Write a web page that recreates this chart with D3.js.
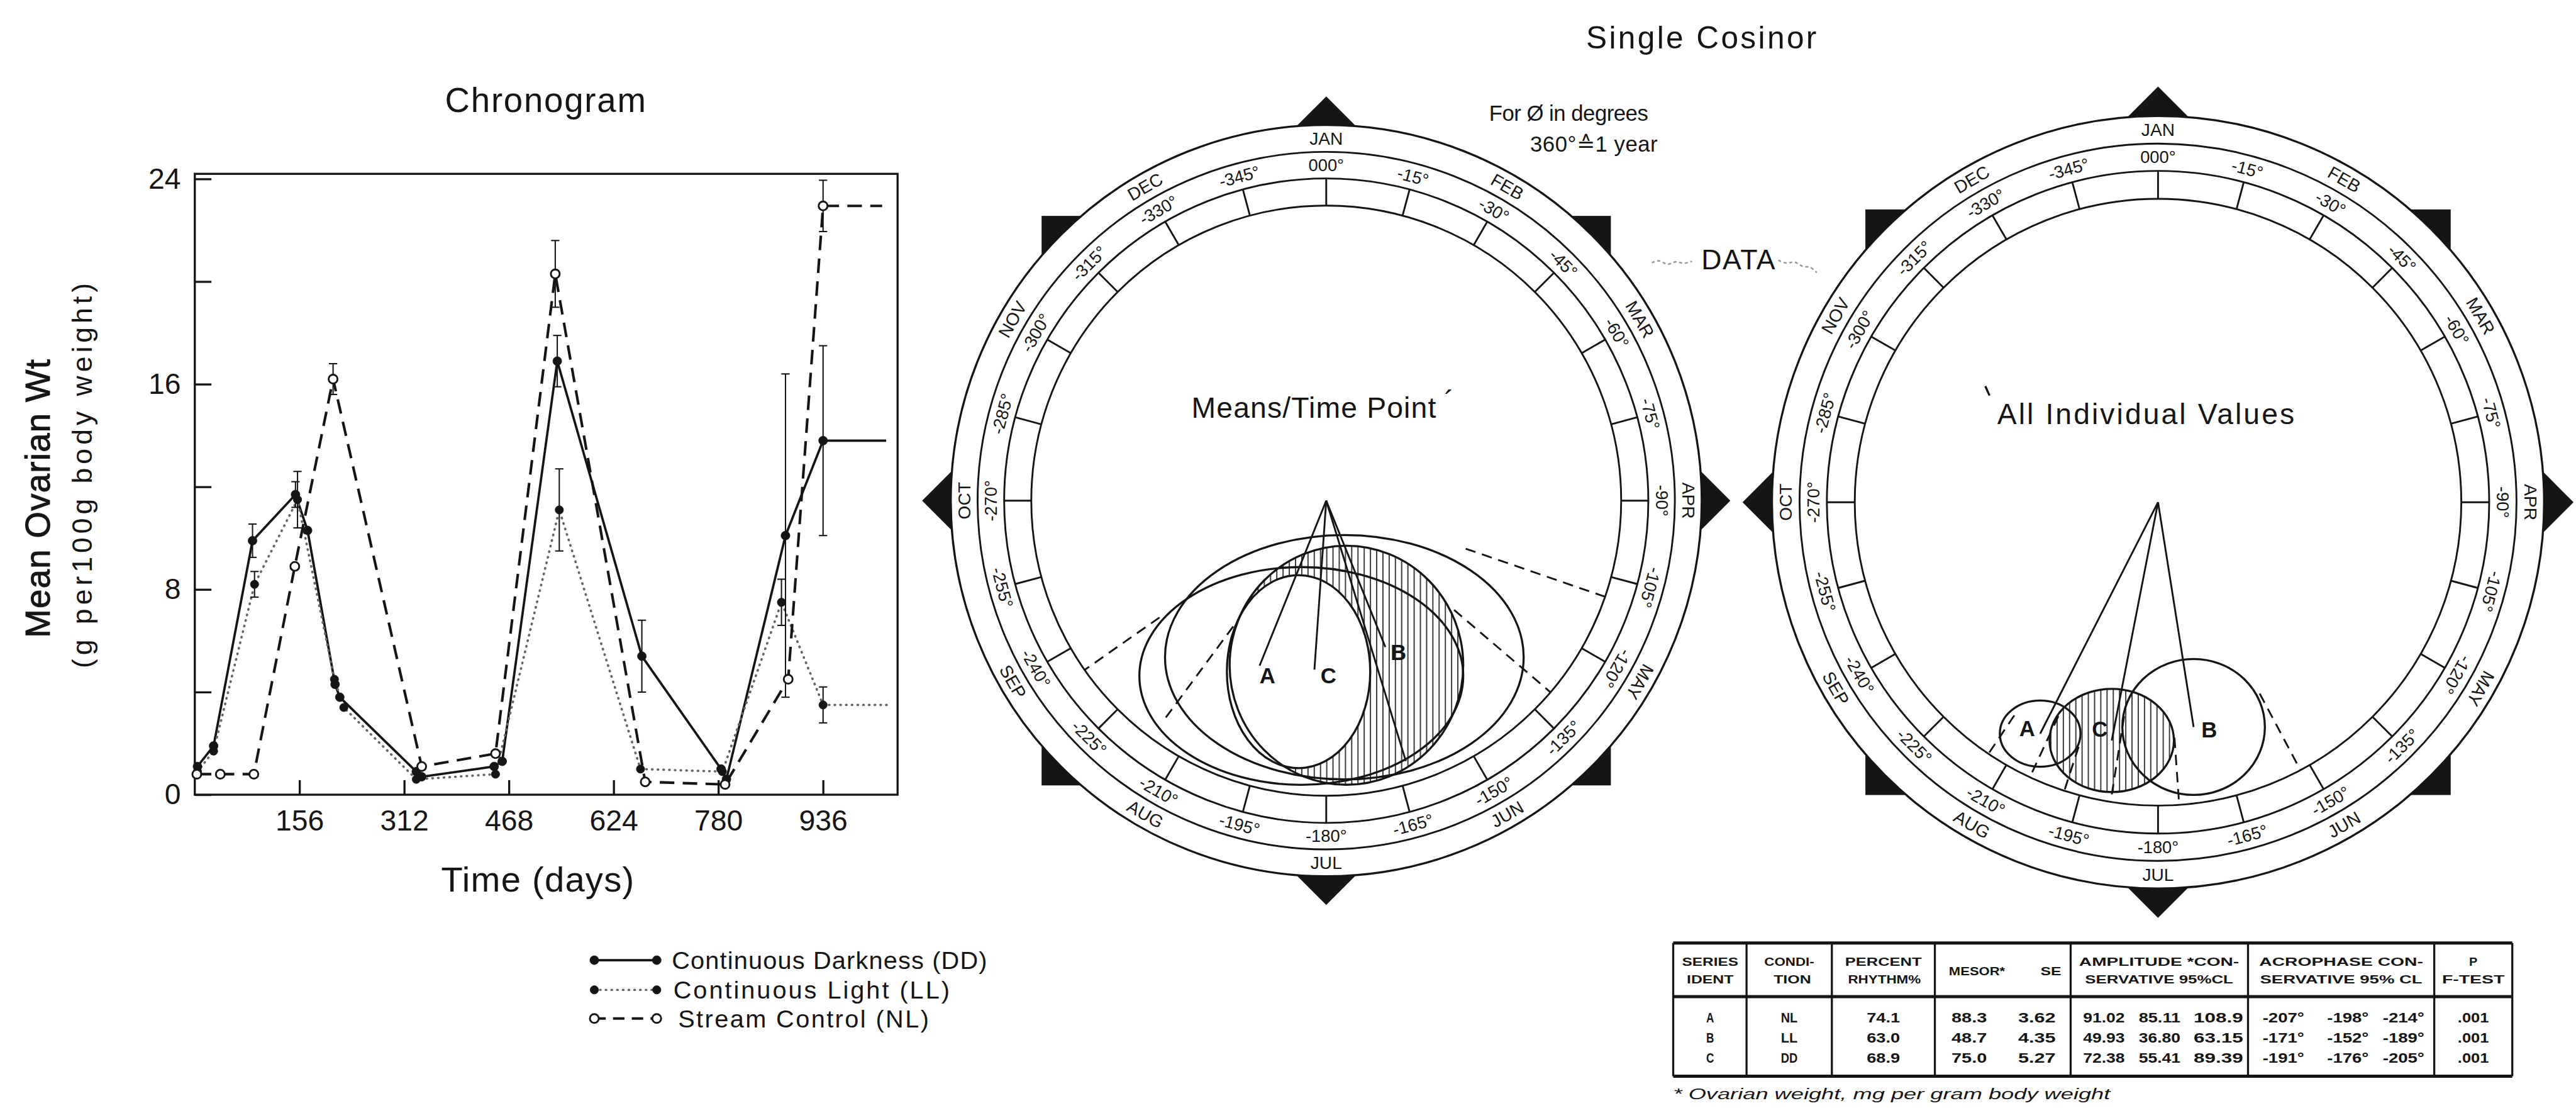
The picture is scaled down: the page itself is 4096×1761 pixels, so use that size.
<!DOCTYPE html>
<html>
<head>
<meta charset="utf-8">
<title>Chronogram and Single Cosinor</title>
<script src="https://cdn.jsdelivr.net/npm/d3@7"></script>
<style>
  html, body { margin: 0; padding: 0; background: #ffffff; }
  svg { display: block; }
</style>
</head>
<body>
<svg id="fig" width="4096" height="1761" viewBox="0 0 4951 2129"></svg>
<script>
// ---------- Chronogram: mean ovarian weight by day ----------
const xTickDays = [156, 312, 468, 624, 780, 936];
const yTickValues = [0, 4, 8, 12, 16, 20, 24];
const yTickLabels = ["0", "", "8", "", "16", "", "24"];

const ddDays  = [4, 28, 86, 150, 168, 209, 216, 330, 338, 446, 458, 540, 666, 784, 792, 880, 936];
const ddMeans = [1.1, 1.9, 9.9, 11.7, 10.3, 4.3, 3.8, 0.9, 0.7, 1.1, 1.3, 16.9, 5.4, 1.0, 0.6, 10.1, 13.8];
const ddSE    = [0, 0, 0.65, 0.5, 0, 0, 0, 0, 0, 0, 0, 1.0, 1.4, 0, 0, 6.3, 3.7];

const llDays  = [4, 28, 89, 153, 208, 222, 330, 448, 543, 664, 786, 874, 936];
const llMeans = [0.9, 1.7, 8.2, 11.5, 4.5, 3.4, 0.6, 0.8, 11.1, 1.0, 0.9, 7.5, 3.5];
const llSE    = [0, 0, 0.5, 1.1, 0, 0, 0, 0, 1.6, 0, 0, 0.9, 0.7];

const nlDays  = [3, 38, 88, 149, 206, 338, 448, 537, 671, 790, 884, 936];
const nlMeans = [0.8, 0.8, 0.8, 8.9, 16.2, 1.1, 1.6, 20.3, 0.5, 0.4, 4.5, 22.95];
const nlSE    = [0, 0, 0, 0, 0.6, 0, 0, 1.3, 0, 0, 0, 1.0];

// last mean carried on to the end of the record
const ddCarryTo = 1030, llCarryTo = 1035, nlCarryTo = 1024;

const legendNames = ["Continuous Darkness (DD)", "Continuous Light (LL)", "Stream Control (NL)"];

// ---------- Cosinor scales ----------
const monthNames = ["JAN", "FEB", "MAR", "APR", "MAY", "JUN", "JUL", "AUG", "SEP", "OCT", "NOV", "DEC"];
const degreeLabels = ["000°", "-15°", "-30°", "-45°", "-60°", "-75°", "-90°", "-105°", "-120°", "-135°",
  "-150°", "-165°", "-180°", "-195°", "-210°", "-225°", "-240°", "-255°", "-270°", "-285°",
  "-300°", "-315°", "-330°", "-345°"];

// ---------- Summary table ----------
const seriesIds     = ["A", "B", "C"];
const conditions    = ["NL", "LL", "DD"];
const percentRhythm = ["74.1", "63.0", "68.9"];
const mesor         = ["88.3", "48.7", "75.0"];
const mesorSE       = ["3.62", "4.35", "5.27"];
const amplitude     = ["91.02", "49.93", "72.38"];
const ampLower      = ["85.11", "36.80", "55.41"];
const ampUpper      = ["108.9", "63.15", "89.39"];
const acrophaseDeg  = [-207, -171, -191];
const acroLowerDeg  = [-198, -152, -176];
const acroUpperDeg  = [-214, -189, -205];
const pValues       = [".001", ".001", ".001"];

// Means / time point cosinor (amplitudes relative to the inner ring)
const meansIds   = ["A", "C", "B"];
const meansPhase = [202, 184, 158];
const meansAmp   = [0.603, 0.574, 0.535];
const meansLabelDx = [15, 27, 25], meansLabelDy = [20, 12, 10];
const meansEdgePhase = [163], meansEdgeAmp = [0.923];
const meansLimitPhase = [235, 216.5, 109, 130.5];
const meansLimitFrom  = [0.69, 0.53, 0.50, 0.57];
const meansLimitTo    = [1.0, 0.92, 1.0, 1.0];
const meansEllPhase = [188.1, 173.4, 173.0, 189.2];
const meansEllAmp   = [0.600, 0.534, 0.562, 0.587];
const meansEllRx    = [0.549, 0.608, 0.396, 0.243];
const meansEllRy    = [0.369, 0.414, 0.405, 0.327];
const meansEllFill  = ["none", "none", "hatch", "white"];

// All individual values cosinor: vectors follow the table acrophases
const indivAmp   = [0.856, 0.750, 0.800];
const indivEllRx = [0.133, 0.235, 0.205];
const indivEllRy = [0.109, 0.224, 0.170];
const indivEllFill = ["none", "none", "hatch"];
const indivLabelDx = [-25, 30, -23], indivLabelDy = [-10, 5, -22];

// ============================================================
const FONT = "'Liberation Sans', Arial, 'DejaVu Sans', sans-serif";
const NARROW = "'Liberation Sans Narrow', 'Liberation Sans', Arial, sans-serif";
const ink = "#151515";
const svg = d3.select("#fig");

const defs = svg.append("defs");
defs.append("pattern").attr("id", "hatch").attr("patternUnits", "userSpaceOnUse")
  .attr("width", 12).attr("height", 40)
  .append("line").attr("x1", 6).attr("x2", 6).attr("y1", 0).attr("y2", 40)
  .attr("stroke", ink).attr("stroke-width", 2);

function txt(g, s, x0, y0, size, opts = {}) {
  const t = g.append("text").attr("x", x0).attr("y", y0).text(s)
    .attr("font-family", opts.family || FONT).attr("font-size", size).attr("fill", ink)
    .attr("text-anchor", opts.anchor || "start");
  if (opts.len) t.attr("textLength", opts.len).attr("lengthAdjust", opts.adjust || "spacing");
  if (opts.weight) t.attr("font-weight", opts.weight);
  if (opts.style) t.attr("font-style", opts.style);
  if (opts.transform) t.attr("transform", opts.transform);
  if (opts.baseline) t.attr("dominant-baseline", opts.baseline);
  return t;
}

// ================= Chronogram =================
const x = d3.scaleLinear().domain([0, 1047]).range([374, 1725]);
const y = d3.scaleLinear().domain([0, 24.2]).range([1527, 334]);
const chrono = svg.append("g");

txt(chrono, "Chronogram", 1048, 215, 66, { anchor: "middle", len: 386 });

chrono.append("rect")
  .attr("x", x.range()[0]).attr("y", y.range()[1])
  .attr("width", x.range()[1] - x.range()[0]).attr("height", y.range()[0] - y.range()[1])
  .attr("fill", "none").attr("stroke", ink).attr("stroke-width", 4);

const yAxis = d3.axisLeft(y).tickValues(yTickValues).tickSize(-32).tickPadding(27)
  .tickFormat((d, i) => yTickLabels[i]);
const yg = chrono.append("g").attr("transform", `translate(${x.range()[0]},0)`).call(yAxis);
yg.select(".domain").remove();
yg.selectAll("line").attr("stroke", ink).attr("stroke-width", 4);
yg.selectAll("text").attr("font-size", 56).attr("font-family", FONT).attr("fill", ink);

const xAxis = d3.axisBottom(x).tickValues(xTickDays).tickSize(-28).tickPadding(29);
const xg = chrono.append("g").attr("transform", `translate(0,${y(0)})`).call(xAxis);
xg.select(".domain").remove();
xg.selectAll("line").attr("stroke", ink).attr("stroke-width", 4);
xg.selectAll("text").attr("font-size", 56).attr("font-family", FONT).attr("fill", ink);

txt(chrono, "Time (days)", 1033, 1713, 68, { anchor: "middle", len: 371 });
txt(chrono, "Mean Ovarian Wt", 0, 0, 66, { anchor: "middle", len: 535, transform: "translate(95,958) rotate(-90)" })
  .attr("stroke", ink).attr("stroke-width", 1.2);
txt(chrono, "(g per100g body weight)", 0, 0, 54, { anchor: "middle", len: 740, transform: "translate(176,914) rotate(-90)" });

const series = [
  { days: ddDays, means: ddMeans, se: ddSE, carry: ddCarryTo, dash: null, width: 4.5, stroke: ink, open: false, r: 8.5 },
  { days: llDays, means: llMeans, se: llSE, carry: llCarryTo, dash: "1 10", width: 4.5, stroke: "#666", open: false, r: 8 },
  { days: nlDays, means: nlMeans, se: nlSE, carry: nlCarryTo, dash: "28 16", width: 5, stroke: ink, open: true, r: 8.5 }
];
const lineGen = d3.line().x(d => x(d[0])).y(d => y(d[1]));

series.forEach(s => {
  const pts = s.days.map((d, i) => [d, s.means[i]]);
  const full = pts.concat([[s.carry, s.means[s.means.length - 1]]]);
  chrono.append("path").attr("d", lineGen(full)).attr("fill", "none")
    .attr("stroke", s.stroke).attr("stroke-width", s.width)
    .attr("stroke-dasharray", s.dash).attr("stroke-linecap", s.dash === "1 10" ? "round" : "butt");
});
series.forEach(s => {
  s.days.forEach((d, i) => {
    const e = s.se[i];
    if (!e) return;
    const cx = x(d);
    chrono.append("line").attr("x1", cx).attr("x2", cx)
      .attr("y1", y(s.means[i] - e)).attr("y2", y(s.means[i] + e))
      .attr("stroke", ink).attr("stroke-width", 2.5);
    [s.means[i] - e, s.means[i] + e].forEach(v => {
      chrono.append("line").attr("x1", cx - 8).attr("x2", cx + 8).attr("y1", y(v)).attr("y2", y(v))
        .attr("stroke", ink).attr("stroke-width", 2.5);
    });
  });
});
series.forEach(s => {
  chrono.selectAll(null).data(s.days.map((d, i) => [d, s.means[i]])).join("circle")
    .attr("cx", d => x(d[0])).attr("cy", d => y(d[1])).attr("r", s.r)
    .attr("fill", s.open ? "#fff" : ink).attr("stroke", ink).attr("stroke-width", s.open ? 3.5 : 1);
});

// legend
const legend = svg.append("g");
const legendY = [1845, 1902, 1957];
const legendTextX = [1291, 1294, 1303];
series.forEach((s, i) => {
  const ly = legendY[i];
  legend.append("line").attr("x1", 1142).attr("x2", 1262).attr("y1", ly).attr("y2", ly)
    .attr("stroke", s.stroke).attr("stroke-width", s.width)
    .attr("stroke-dasharray", s.dash === "28 16" ? "22 14" : s.dash)
    .attr("stroke-linecap", s.dash === "1 10" ? "round" : "butt");
  [1142, 1262].forEach(lx => legend.append("circle").attr("cx", lx).attr("cy", ly).attr("r", s.r)
    .attr("fill", s.open ? "#fff" : ink).attr("stroke", ink).attr("stroke-width", s.open ? 3.5 : 1));
  const lens = [606, 531, 482];
  txt(legend, legendNames[i], legendTextX[i], ly + 17, 48, { len: lens[i] });
});

// ================= Single cosinor =================
txt(svg, "Single Cosinor", 3270, 93, 60, { anchor: "middle", len: 443 });
txt(svg, "For Ø in degrees", 2862, 232, 42, { len: 306 });
txt(svg, "360°≙1 year", 2941, 291, 42, { len: 245 });

function flipRot(a) { return (a >= 135 && a <= 255) ? a - 180 : a; }

function drawCosinor(cx, cy, R4, o) {
  const g = svg.append("g");
  const r = d3.scaleLinear().domain([0, 1]).range([0, R4]);
  const ang = d3.scaleLinear().domain([0, 360]).range([0, 2 * Math.PI]);
  const at = (a, rr) => [cx + rr * Math.sin(ang(a)), cy - rr * Math.cos(ang(a))];
  const R3 = R4 * 1.092, R2 = R4 * 1.182, R1 = R4 * 1.273;
  const dia = R4 * 1.37, sq = R4 * 0.965;

  g.append("path").attr("d", d3.line()([[cx, cy - dia], [cx + dia, cy], [cx, cy + dia], [cx - dia, cy]]) + "Z")
    .attr("fill", ink);
  g.append("rect").attr("x", cx - sq).attr("y", cy - sq).attr("width", 2 * sq).attr("height", 2 * sq)
    .attr("fill", ink);
  g.append("circle").attr("cx", cx).attr("cy", cy).attr("r", R1)
    .attr("fill", "#fff").attr("stroke", ink).attr("stroke-width", 4);
  g.selectAll(null).data([R2, R3, R4]).join("circle")
    .attr("cx", cx).attr("cy", cy).attr("r", d => d)
    .attr("fill", "none").attr("stroke", ink).attr("stroke-width", 3.5);

  degreeLabels.forEach((lab, i) => {
    const a = i * 15;
    const p1 = at(a, R4), p2 = at(a, R3);
    g.append("line").attr("x1", p1[0]).attr("y1", p1[1]).attr("x2", p2[0]).attr("y2", p2[1])
      .attr("stroke", ink).attr("stroke-width", 3.5);
    const p = at(a, (R2 + R3) / 2);
    txt(g, lab, p[0], p[1], 33, { anchor: "middle", baseline: "central",
      transform: `rotate(${flipRot(a)},${p[0]},${p[1]})` });
  });
  monthNames.forEach((m, i) => {
    const a = i * 30;
    const p = at(a, (R1 + R2) / 2);
    txt(g, m, p[0], p[1], 34, { anchor: "middle", baseline: "central",
      transform: `rotate(${flipRot(a)},${p[0]},${p[1]})` });
  });

  const ells = o.ellPhase.map((ph, i) => {
    const c = at(ph, r(o.ellAmp[i]));
    return { cx: c[0], cy: c[1], rx: r(o.ellRx[i]), ry: r(o.ellRy[i]), fill: o.ellFill[i] };
  });
  const ellipse = (sel) => sel.attr("cx", d => d.cx).attr("cy", d => d.cy).attr("rx", d => d.rx).attr("ry", d => d.ry);
  g.selectAll(null).data(ells.filter(e => e.fill === "hatch")).join("ellipse").call(ellipse).attr("fill", "url(#hatch)");
  g.selectAll(null).data(ells.filter(e => e.fill === "white")).join("ellipse").call(ellipse).attr("fill", "#fff");
  g.selectAll(null).data(ells).join("ellipse").call(ellipse)
    .attr("fill", "none").attr("stroke", ink).attr("stroke-width", 4);

  o.limitPhase.forEach((ph, i) => {
    const p1 = at(ph, r(o.limitFrom[i])), p2 = at(ph, r(o.limitTo[i]));
    g.append("line").attr("x1", p1[0]).attr("y1", p1[1]).attr("x2", p2[0]).attr("y2", p2[1])
      .attr("stroke", ink).attr("stroke-width", 3.5).attr("stroke-dasharray", "20 13");
  });
  (o.edgePhase || []).forEach((ph, i) => {
    const p = at(ph, r(o.edgeAmp[i]));
    g.append("line").attr("x1", cx).attr("y1", cy).attr("x2", p[0]).attr("y2", p[1])
      .attr("stroke", ink).attr("stroke-width", 3.5);
  });
  o.phase.forEach((ph, i) => {
    const p = at(ph, r(o.amp[i]));
    g.append("line").attr("x1", cx).attr("y1", cy).attr("x2", p[0]).attr("y2", p[1])
      .attr("stroke", ink).attr("stroke-width", 3.5);
    txt(g, o.ids[i], p[0] + o.labelDx[i], p[1] + o.labelDy[i], 42,
      { anchor: "middle", baseline: "central", weight: "bold" });
  });
  return { g, at };
}

// left: means per time point
const left = drawCosinor(2549, 962, 567, {
  ids: meansIds, phase: meansPhase, amp: meansAmp, labelDx: meansLabelDx, labelDy: meansLabelDy,
  edgePhase: meansEdgePhase, edgeAmp: meansEdgeAmp,
  limitPhase: meansLimitPhase, limitFrom: meansLimitFrom, limitTo: meansLimitTo,
  ellPhase: meansEllPhase, ellAmp: meansEllAmp, ellRx: meansEllRx, ellRy: meansEllRy, ellFill: meansEllFill
});
txt(left.g, "Means/Time Point", 2290, 803, 56, { len: 470 });
txt(left.g, "´", 2776, 790, 56);

// right: all individual values, drawn from the table acrophases
const indivPhase = acrophaseDeg.map(d => -d);
const indivRho = indivEllRx.map((rx, i) => (rx + indivEllRy[i]) / 2);
const limPhase = [], limFrom = [], limTo = [];
acroLowerDeg.forEach((lo, i) => {
  const start = Math.sqrt(indivAmp[i] * indivAmp[i] - indivRho[i] * indivRho[i]);
  [-lo, -acroUpperDeg[i]].forEach(ph => { limPhase.push(ph); limFrom.push(start); limTo.push(1.0); });
});
const right = drawCosinor(4148, 965, 583, {
  ids: seriesIds, phase: indivPhase, amp: indivAmp, labelDx: indivLabelDx, labelDy: indivLabelDy,
  limitPhase: limPhase, limitFrom: limFrom, limitTo: limTo,
  ellPhase: indivPhase, ellAmp: indivAmp, ellRx: indivEllRx, ellRy: indivEllRy, ellFill: indivEllFill
});
txt(right.g, "All Individual Values", 3839, 815, 56, { len: 571 });
right.g.append("line").attr("x1", 3816).attr("y1", 742).attr("x2", 3824).attr("y2", 760)
  .attr("stroke", ink).attr("stroke-width", 4);

// DATA pointer between the two dials
txt(svg, "DATA", 3270, 517, 54, { len: 142 });
const squiggle = d3.line().curve(d3.curveBasis);
svg.append("path").attr("d", squiggle([[3175, 505], [3190, 498], [3205, 512], [3220, 500], [3235, 508], [3252, 502]]))
  .attr("fill", "none").attr("stroke", "#999").attr("stroke-width", 3).attr("stroke-dasharray", "6 5");
svg.append("path").attr("d", squiggle([[3418, 500], [3435, 508], [3450, 500], [3465, 515], [3478, 510], [3492, 524]]))
  .attr("fill", "none").attr("stroke", "#999").attr("stroke-width", 3).attr("stroke-dasharray", "6 5");

// ================= Table =================
const tbl = svg.append("g");
const colEdges = [3216, 3357, 3521, 3719, 3980, 4321, 4679, 4829];
const tTop = 1812, tHead = 1915, tBottom = 2068;
[tTop, tHead, tBottom].forEach(yy => tbl.append("line")
  .attr("x1", colEdges[0]).attr("x2", colEdges[colEdges.length - 1]).attr("y1", yy).attr("y2", yy)
  .attr("stroke", ink).attr("stroke-width", 6));
colEdges.forEach(xx => tbl.append("line").attr("x1", xx).attr("x2", xx).attr("y1", tTop).attr("y2", tBottom)
  .attr("stroke", ink).attr("stroke-width", 4));

const cell = (s, cx, cy, size, perChar) => txt(tbl, s, cx, cy, size, {
  anchor: "middle", baseline: "central", family: NARROW, weight: "bold",
  len: s.length * perChar, adjust: "spacingAndGlyphs" });

const h1 = 1848, h2 = 1882, hm = 1866;
cell("SERIES", 3287, h1, 23, 18); cell("IDENT", 3287, h2, 23, 18);
cell("CONDI-", 3439, h1, 23, 16); cell("TION", 3445, h2, 23, 18);
cell("PERCENT", 3620, h1, 23, 21); cell("RHYTHM%", 3622, h2, 23, 20);
cell("MESOR*", 3800, hm, 23, 18); cell("SE", 3942, hm, 23, 20);
cell("AMPLITUDE *CON-", 4150, h1, 23, 20.5); cell("SERVATIVE 95%CL", 4150, h2, 23, 19);
cell("ACROPHASE CON-", 4500, h1, 23, 22.5); cell("SERVATIVE 95% CL", 4500, h2, 23, 19.5);
cell("P", 4754, h1, 23, 16); cell("F-TEST", 4754, h2, 23, 20);

const rowY = [1955, 1994, 2033];
const fmtDeg = d => `${d}°`;
seriesIds.forEach((id, i) => {
  const ry = rowY[i];
  cell(id, 3287, ry, 27, 15);
  cell(conditions[i], 3439, ry, 27, 16);
  cell(percentRhythm[i], 3620, ry, 27, 16);
  cell(mesor[i], 3785, ry, 27, 17);
  cell(mesorSE[i], 3915, ry, 27, 18);
  cell(amplitude[i], 4044, ry, 27, 16);
  cell(ampLower[i], 4151, ry, 27, 16);
  cell(ampUpper[i], 4264, ry, 27, 19);
  cell(fmtDeg(acrophaseDeg[i]), 4389, ry, 27, 16);
  cell(fmtDeg(acroLowerDeg[i]), 4513, ry, 27, 16);
  cell(fmtDeg(acroUpperDeg[i]), 4620, ry, 27, 16);
  cell(pValues[i], 4754, ry, 27, 15);
});
txt(tbl, "* Ovarian weight, mg per gram body weight", 3216, 2112, 30,
  { style: "italic", len: 840, family: NARROW, adjust: "spacingAndGlyphs" });
</script>
</body>
</html>
